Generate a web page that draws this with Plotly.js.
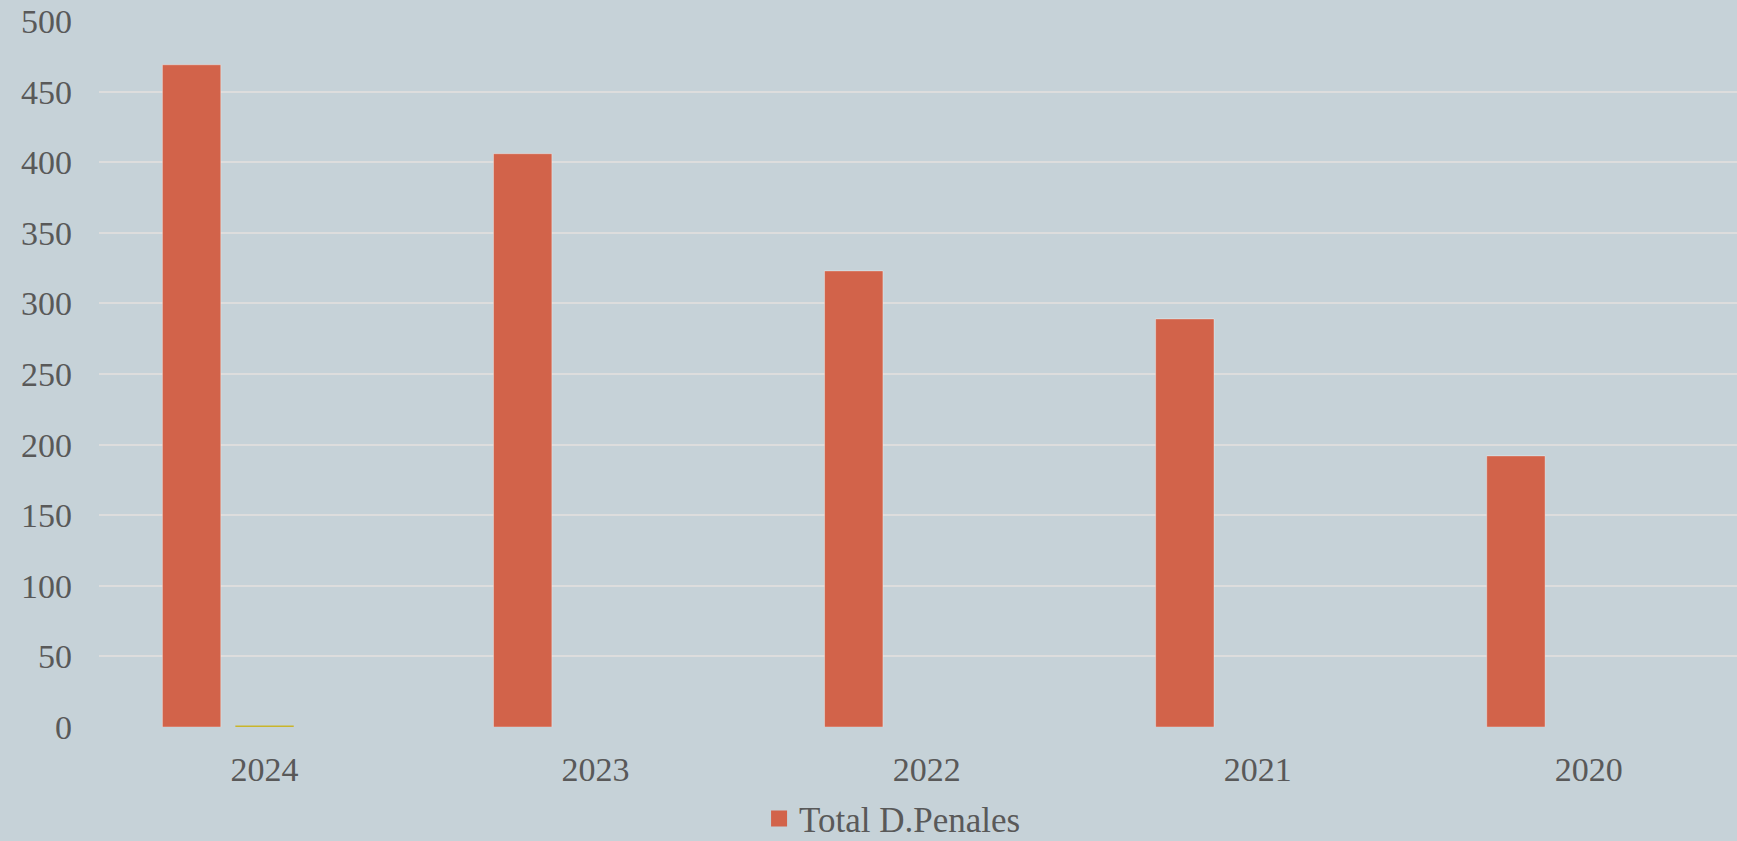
<!DOCTYPE html>
<html>
<head>
<meta charset="utf-8">
<script src="https://cdn.plot.ly/plotly-3.0.1.min.js"></script>
<style>
  html, body { margin: 0; padding: 0; background: #C6D2D8; }
  #chart { width: 1737px; height: 841px; }
</style>
</head>
<body>
<div id="chart"></div>
<script>
const categories = ['2024', '2023', '2022', '2021', '2020'];
const totalPenales = [469, 406, 323, 289, 192];
const secondSeries = [1, 0, 0, 0, 0];
const thirdSeries = [0, 0, 0, 0, 0];
const legendLabel = 'Total D.Penales';
const yTicks = [0, 50, 100, 150, 200, 250, 300, 350, 400, 450, 500];

const FONT = '"Liberation Serif", Georgia, serif';
const TEXT_COLOR = '#595959';
const RED = '#D2634A';
const YELLOW = '#C9B52B';

const traces = [
  {
    type: 'bar', x: categories, y: totalPenales, name: legendLabel,
    marker: { color: RED, line: { color: 'rgba(255,255,255,0.35)', width: 1 } },
    showlegend: false, hoverinfo: 'x+y'
  },
  {
    type: 'bar', x: categories, y: secondSeries, name: 'Serie 2',
    marker: { color: YELLOW }, showlegend: false
  },
  {
    type: 'bar', x: categories, y: thirdSeries, name: 'Serie 3',
    marker: { color: '#8A8A8A' }, showlegend: false
  },
  {
    type: 'scatter', mode: 'markers', x: [null], y: [null], name: legendLabel,
    marker: { color: RED, symbol: 'square', size: 16 }, showlegend: true
  }
];

const layout = {
  width: 1737, height: 841,
  paper_bgcolor: '#C6D2D8', plot_bgcolor: '#C6D2D8',
  margin: { l: 99, r: 0, t: 21, b: 114, pad: 0 },
  barmode: 'group', bargap: 0.339, bargroupgap: 0.2,
  font: { family: FONT, color: TEXT_COLOR, size: 34 },
  xaxis: {
    type: 'category', range: [-0.5, 4.4475],
    showgrid: false, zeroline: false, showline: false, ticks: '',
    tickfont: { family: FONT, size: 34, color: TEXT_COLOR },
    ticklabelstandoff: 19, fixedrange: true, automargin: false
  },
  yaxis: {
    range: [0, 500], tickvals: yTicks, ticktext: yTicks.map(String),
    showgrid: true, gridcolor: '#DDDDDD', gridwidth: 2,
    zeroline: false, showline: false, ticks: '',
    tickfont: { family: FONT, size: 34, color: TEXT_COLOR },
    ticklabelstandoff: 26, fixedrange: true, automargin: false
  },
  legend: {
    orientation: 'h', xref: 'container', yref: 'container',
    x: 0.437, xanchor: 'left', y: 0.0265, yanchor: 'middle',
    bgcolor: 'rgba(0,0,0,0)', font: { family: FONT, size: 35, color: TEXT_COLOR }
  },
  showlegend: true
};

Plotly.newPlot('chart', traces, layout, { displayModeBar: false, staticPlot: true });
</script>
</body>
</html>
